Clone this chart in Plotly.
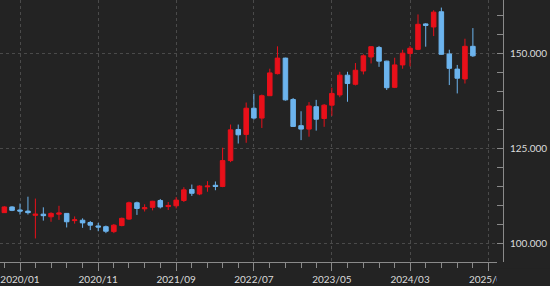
import plotly.graph_objects as go

months = [
    "2019-11", "2019-12",
    "2020-01", "2020-02", "2020-03", "2020-04", "2020-05", "2020-06",
    "2020-07", "2020-08", "2020-09", "2020-10", "2020-11", "2020-12",
    "2021-01", "2021-02", "2021-03", "2021-04", "2021-05", "2021-06",
    "2021-07", "2021-08", "2021-09", "2021-10", "2021-11", "2021-12",
    "2022-01", "2022-02", "2022-03", "2022-04", "2022-05", "2022-06",
    "2022-07", "2022-08", "2022-09", "2022-10", "2022-11", "2022-12",
    "2023-01", "2023-02", "2023-03", "2023-04", "2023-05", "2023-06",
    "2023-07", "2023-08", "2023-09", "2023-10", "2023-11", "2023-12",
    "2024-01", "2024-02", "2024-03", "2024-04", "2024-05", "2024-06",
    "2024-07", "2024-08", "2024-09", "2024-10", "2024-11",
]

open_ = [
    108.0, 109.5,
    108.7, 108.4, 107.3, 107.6, 106.9, 107.6,
    107.8, 105.9, 106.0, 105.4, 104.5, 104.3,
    103.0, 104.6, 106.3, 110.6, 109.0, 109.4,
    111.2, 109.6, 109.8, 111.2, 114.1, 112.9,
    114.8, 115.2, 114.9, 121.7, 129.9, 128.6,
    135.5, 132.9, 138.8, 144.6, 148.7, 137.8,
    130.9, 130.0, 135.9, 132.8, 136.3, 139.0,
    144.2, 141.8, 145.3, 149.0, 151.5, 147.9,
    141.0, 146.9, 149.9, 151.0, 157.7, 156.9,
    160.9, 149.8, 145.8, 143.2, 151.8,
]
high = [
    109.7, 109.7,
    110.4, 112.2, 111.7, 109.4, 108.1, 109.8,
    107.9, 107.0, 106.5, 105.8, 105.3, 104.6,
    105.0, 106.7, 110.9, 110.9, 110.2, 111.1,
    111.6, 110.8, 112.1, 114.7, 115.4, 115.2,
    116.3, 116.2, 125.1, 131.2, 131.2, 137.0,
    139.3, 139.1, 145.9, 151.8, 148.8, 138.2,
    134.7, 137.1, 137.7, 136.6, 140.9, 145.1,
    145.1, 147.4, 149.7, 151.8, 151.9, 148.0,
    148.8, 150.9, 151.9, 160.2, 157.9, 161.3,
    162.0, 150.9, 146.9, 153.8, 156.6,
]
low = [
    107.9, 108.4,
    107.5, 107.5, 101.2, 105.9, 105.6, 106.1,
    104.1, 105.1, 104.0, 103.4, 103.1, 102.6,
    102.6, 104.4, 106.1, 107.4, 108.3, 108.6,
    109.1, 108.7, 109.1, 110.8, 112.4, 112.6,
    113.5, 113.9, 114.7, 121.3, 126.2, 126.4,
    132.5, 130.3, 138.7, 144.4, 137.5, 130.6,
    127.1, 128.0, 129.6, 130.6, 133.5, 138.4,
    137.2, 141.5, 144.4, 147.3, 146.4, 140.3,
    140.8, 145.9, 146.5, 150.8, 151.7, 154.5,
    149.6, 141.6, 139.4, 142.0, 149.0,
]
close = [
    109.5, 108.6,
    108.4, 108.0, 107.6, 107.2, 107.8, 107.9,
    105.6, 106.1, 105.3, 104.7, 104.2, 103.1,
    104.7, 106.5, 110.6, 109.1, 109.3, 111.0,
    109.5, 109.9, 111.3, 114.0, 113.1, 115.0,
    115.0, 114.9, 121.7, 129.8, 128.5, 135.5,
    132.9, 138.8, 144.8, 148.7, 137.7, 130.7,
    130.0, 136.1, 132.6, 136.3, 139.4, 144.2,
    142.0, 145.5, 149.3, 151.7, 147.9, 140.9,
    146.9, 150.0, 151.3, 157.6, 157.3, 160.8,
    149.7, 146.0, 143.4, 151.8, 149.3,
]

y_ticks = [100, 125, 150]

BG = "#232323"
RED = "#e8101a"
BLUE = "#6cb4ee"
AXIS = "#8a8a8a"
GRID = "#4a4a4a"
TXT = "#dcdcdc"

dates = [m + "-01" for m in months]

fig = go.Figure(
    go.Candlestick(
        x=dates, open=open_, high=high, low=low, close=close,
        increasing=dict(line=dict(color=RED, width=1), fillcolor=RED),
        decreasing=dict(line=dict(color=BLUE, width=1), fillcolor=BLUE),
        whiskerwidth=0,
        showlegend=False,
    )
)

font = dict(family="Lato", size=10, color=TXT)

fig.update_layout(
    width=550, height=286,
    margin=dict(l=0, r=53, t=0, b=24),
    paper_bgcolor=BG, plot_bgcolor=BG,
    boxgap=0.1,
    showlegend=False,
    xaxis=dict(
        type="date",
        range=["2019-10-15", "2025-02-03"],
        rangeslider=dict(visible=False),
        tickformat="%Y/%m",
        dtick="M10",
        tick0="2020-01-01",
        ticks="outside", ticklen=8, tickcolor=AXIS, tickwidth=1,
        showline=True, linecolor=AXIS, linewidth=1,
        showgrid=True, gridcolor=GRID, griddash="3px,3px", gridwidth=1,
        zeroline=False,
        minor=dict(dtick="M2", tick0="2020-01-01", ticks="outside",
                   ticklen=5, tickcolor=AXIS, showgrid=False),
        tickfont=font,
    ),
    yaxis=dict(
        side="right", anchor="free", position=1, shift=6,
        range=[95, 164],
        tickvals=y_ticks,
        tickformat=".3f",
        ticks="inside", ticklen=6, tickcolor=AXIS,
        showline=True, linecolor=AXIS, linewidth=1,
        showgrid=True, gridcolor=GRID, griddash="3px,3px", gridwidth=1,
        zeroline=False,
        minor=dict(dtick=5, tick0=95, ticks="inside", ticklen=6,
                   tickcolor=AXIS, showgrid=False),
        tickfont=font,
        ticklabelstandoff=4,
    ),
    shapes=[dict(type="rect", xref="paper", yref="paper",
                 x0=1.0, x1=1.2, y0=-0.2, y1=-0.025,
                 fillcolor=BG, line=dict(width=0), layer="above")],
)

fig.write_html("out.html")
